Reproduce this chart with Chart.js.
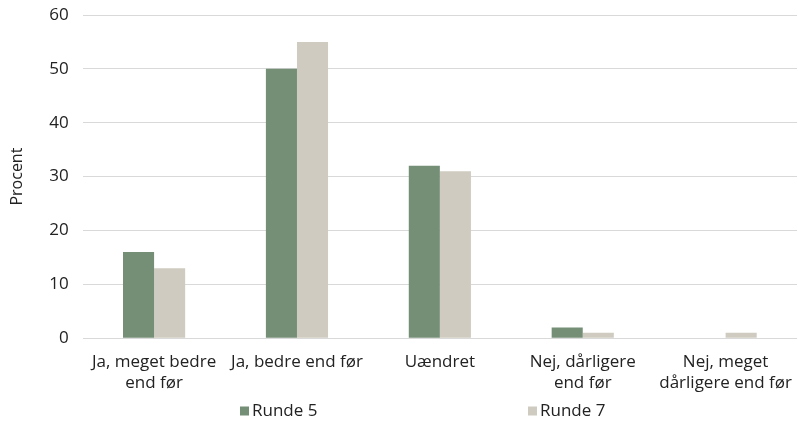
<!DOCTYPE html>
<html>
<head>
<meta charset="utf-8">
<script src="https://cdn.jsdelivr.net/npm/chart.js@4.4.1/dist/chart.umd.min.js"></script>
<style>
  html, body { margin: 0; padding: 0; background: #ffffff; }
  #wrap { width: 798px; height: 422px; position: relative; }
</style>
</head>
<body>
<div id="wrap"><canvas id="chart"></canvas></div>
<script>
// Answer categories (wrapped onto lines as shown under the axis)
const categories = [
  ["Ja, meget bedre", "end før"],
  "Ja, bedre end før",
  "Uændret",
  ["Nej, dårligere", "end før"],
  ["Nej, meget", "dårligere end før"]
];
const seriesNames = ["Runde 5", "Runde 7"];
const runde5 = [16, 50, 32, 2, 0];
const runde7 = [13, 55, 31, 1, 1];
const yTicks = [0, 10, 20, 30, 40, 50, 60];

const GREEN = "#748f76";
const BEIGE = "#cfcbc0";
const FONT = "'Open Sans', 'DejaVu Sans', sans-serif";
const TEXT = "#222222";

// Legend drawn beneath the axis labels, items spread apart
const spreadLegend = {
  id: "spreadLegend",
  afterDraw(chart) {
    const ctx = chart.ctx;
    const xs = [240, 528];
    const y = 411;
    ctx.save();
    ctx.font = "17px " + FONT;
    ctx.textBaseline = "middle";
    ctx.textAlign = "left";
    chart.data.datasets.forEach((ds, i) => {
      ctx.fillStyle = ds.backgroundColor;
      ctx.fillRect(xs[i], y - 4.5, 9, 9);
      ctx.fillStyle = TEXT;
      ctx.fillText(ds.label, xs[i] + 12, y);
    });
    ctx.restore();
  }
};

new Chart(document.getElementById("chart"), {
  type: "bar",
  data: {
    labels: categories,
    datasets: [
      { label: seriesNames[0], data: runde5, backgroundColor: GREEN },
      { label: seriesNames[1], data: runde7, backgroundColor: BEIGE }
    ]
  },
  options: {
    responsive: true,
    maintainAspectRatio: false,
    animation: false,
    layout: { padding: { top: 15, right: 0, bottom: 23, left: 8 } },
    datasets: { bar: { categoryPercentage: 0.435, barPercentage: 1.0 } },
    plugins: {
      legend: { display: false },
      tooltip: { enabled: false }
    },
    scales: {
      x: {
        grid: { display: false },
        border: { display: false },
        ticks: {
          color: TEXT,
          font: { family: FONT, size: 17, lineHeight: 1.2 },
          maxRotation: 0,
          autoSkip: false,
          padding: 6
        }
      },
      y: {
        min: 0,
        max: 60,
        afterBuildTicks(axis) { axis.ticks = yTicks.map(v => ({ value: v })); },
        afterFit(axis) { axis.paddingTop = 0; },
        grid: { color: "#d9d9d9", lineWidth: 1, drawTicks: false },
        border: { display: false },
        ticks: {
          color: TEXT,
          font: { family: FONT, size: 17 },
          padding: 14
        },
        title: {
          display: true,
          text: "Procent",
          color: TEXT,
          font: { family: FONT, size: 16 },
          padding: { top: 0, bottom: 8 }
        }
      }
    }
  },
  plugins: [spreadLegend]
});
</script>
</body>
</html>
